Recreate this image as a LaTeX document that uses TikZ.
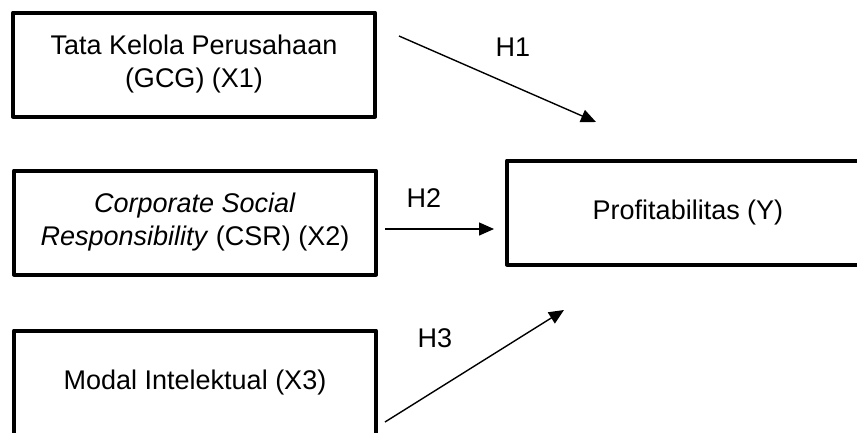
\documentclass[tikz,border=0pt]{standalone}
\usepackage{fontspec}
\setmainfont{Liberation Sans}
\usetikzlibrary{arrows.meta}
\begin{document}
\begin{tikzpicture}[x=1pt,y=-1pt,
  varbox/.style={draw=black,line width=4pt,line join=round,minimum width=362pt,minimum height=104pt,
    inner sep=0pt,align=center,font=\fontsize{27}{33}\selectfont},
  hyp/.style={line width=1.4pt,-{Triangle[length=15pt,width=13pt]}},
  hlabel/.style={font=\fontsize{27}{30}\selectfont,inner sep=0pt}]
\useasboundingbox (0,0) rectangle (857,432);
\clip (0,0) rectangle (857,432);
\node[varbox] (x1) at (194,64.5) {Tata Kelola Perusahaan\\(GCG) (X1)};
\node[varbox] (x2) at (195,222.5) {\textit{Corporate Social}\\\textit{Responsibility} (CSR) (X2)};
\node[varbox] (x3) at (195,382.5) {Modal Intelektual (X3)};
\node[varbox] (y) at (688,212.5) {Profitabilitas (Y)};
\coordinate (h1s) at (399,36);
\coordinate (h1e) at (596,122);
\coordinate (h2s) at (385,229);
\coordinate (h2e) at (494,229);
\coordinate (h3s) at (385,422);
\coordinate (h3e) at (564,310);
\draw[hyp] (h1s) -- (h1e);
\draw[hyp] (h2s) -- (h2e);
\draw[hyp] (h3s) -- (h3e);
\node[hlabel] (l1) at (513,47) {H1};
\node[hlabel] (l2) at (424,198) {H2};
\node[hlabel] (l3) at (435,338) {H3};
\end{tikzpicture}
\end{document}
